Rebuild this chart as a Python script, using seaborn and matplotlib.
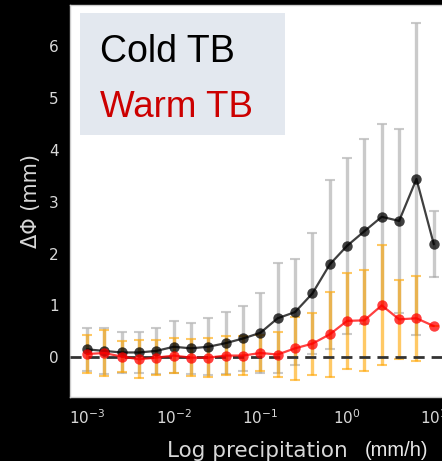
import numpy as np
import pandas as pd
import matplotlib
matplotlib.use("Agg")
import matplotlib.pyplot as plt
from matplotlib.patches import Rectangle
import seaborn as sns

# ---- data ----
precip = [0.001, 0.00158, 0.00251, 0.00398, 0.00631, 0.01, 0.0158, 0.0251,
          0.0398, 0.0631, 0.1, 0.158, 0.251, 0.398, 0.631, 1.0, 1.58, 2.51,
          3.98, 6.31, 10.0]
cold_mean = [0.15, 0.12, 0.09, 0.09, 0.12, 0.20, 0.17, 0.20, 0.27, 0.36, 0.47,
             0.75, 0.87, 1.23, 1.79, 2.15, 2.43, 2.71, 2.63, 3.44, 2.18]
cold_err = [0.42, 0.44, 0.39, 0.40, 0.44, 0.50, 0.49, 0.55, 0.60, 0.62, 0.77,
            1.06, 1.02, 1.17, 1.64, 1.70, 1.79, 1.79, 1.78, 3.01, 0.64]
warm_mean = [0.06, 0.08, 0.01, -0.04, -0.01, 0.03, -0.01, -0.01, 0.03, 0.03, 0.08,
             0.05, 0.17, 0.26, 0.44, 0.70, 0.71, 1.00, 0.73, 0.75, 0.60]
warm_err = [0.37, 0.45, 0.30, 0.37, 0.34, 0.33, 0.36, 0.38, 0.37, 0.38, 0.35,
            0.43, 0.61, 0.60, 0.82, 0.92, 0.98, 1.16, 0.76, 0.82, 0.0]
legend_labels = ["Cold TB", "Warm TB"]

df = pd.DataFrame({
    "precip": precip * 2,
    "dphi": cold_mean + warm_mean,
    "err": cold_err + warm_err,
    "group": [legend_labels[0]] * len(precip) + [legend_labels[1]] * len(precip),
})

sns.set_theme(style="white")
plt.rcParams["font.family"] = ["DejaVu Sans"]

W, H = 442, 461
fig = plt.figure(figsize=(W / 100, H / 100), dpi=100, facecolor="black")
left_px, right_px, top_px, bot_px = 70, 470, 5, 397
ax = fig.add_axes([left_px / W, 1 - bot_px / H, (right_px - left_px) / W, (bot_px - top_px) / H])
ax.set_facecolor("white")

# error bars
ax.errorbar(precip, cold_mean, yerr=cold_err, fmt="none", ecolor="#a0a0a0",
            alpha=0.55, elinewidth=2.4, capsize=3.5, capthick=1.5, zorder=2)
ax.errorbar(precip, warm_mean, yerr=warm_err, fmt="none",
            ecolor="#ffa500", alpha=0.6, elinewidth=2.4, capsize=3.5, capthick=1.5, zorder=2)

ax.axhline(0, color="#333333", lw=2.0, ls=(0, (4, 2.5)), zorder=3)

sns.lineplot(data=df, x="precip", y="dphi", hue="group",
             palette={legend_labels[0]: "black", legend_labels[1]: "#ff0000"},
             marker="o", markersize=7.5, markeredgewidth=0, linewidth=1.6,
             alpha=0.75, legend=False, ax=ax, zorder=4)

ax.set_xscale("log")
ax.set_xlim(10 ** (-3 - 17 / 86.7), 10 ** (-3 + (right_px - 87) / 86.7))
ax.set_ylim(-0.77, 6.8)
ax.set_yticks([0, 1, 2, 3, 4, 5, 6])
ax.set_xticks([1e-3, 1e-2, 1e-1, 1e0, 1e1])
ax.minorticks_off()
ax.tick_params(axis="both", colors="#d8d8d8", labelsize=11, length=0, pad=8)
for sp in ax.spines.values():
    sp.set_color("#cccccc")
    sp.set_linewidth(1)

ax.set_xlabel("")
ax.set_ylabel("ΔΦ (mm)", color="#d8d8d8", fontsize=15, labelpad=6)

fig.text(167 / W, 1 - 457 / H, "Log precipitation", color="#d8d8d8", fontsize=15.5,
         ha="left", va="baseline")
fig.text(365 / W, 1 - 456 / H, "(mm/h)", color="#e8e8e8", fontsize=14.5,
         family="Liberation Sans", ha="left", va="baseline")

# legend box
fig.patches.append(Rectangle((80 / W, 1 - 135 / H), 205 / W, 122 / H,
                             transform=fig.transFigure, facecolor="#e3e8ef",
                             edgecolor="none", zorder=5))
fig.text(100 / W, 1 - 62 / H, legend_labels[0], color="black", fontsize=27,
         family="Liberation Sans", ha="left", va="baseline", zorder=6)
fig.text(100 / W, 1 - 117 / H, legend_labels[1], color="#cc0000", fontsize=26.5,
         family="Liberation Sans", ha="left", va="baseline", zorder=6)

fig.savefig("out.png", dpi=100, facecolor="black")
